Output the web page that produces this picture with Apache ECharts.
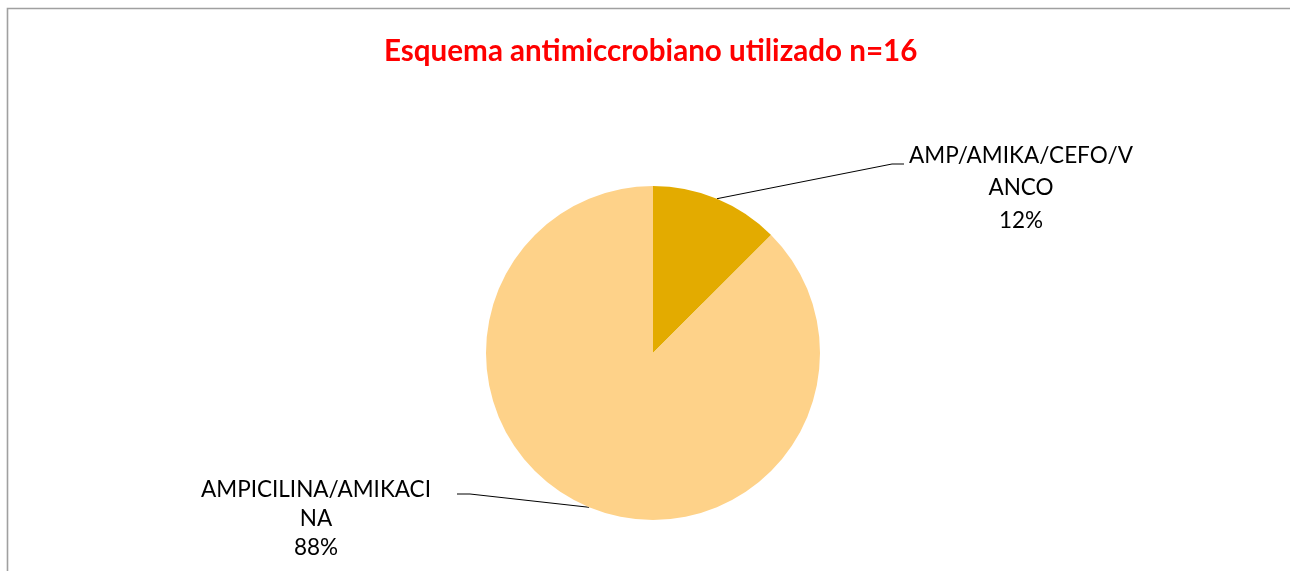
<!DOCTYPE html>
<html>
<head>
<meta charset="utf-8">
<script src="https://cdn.jsdelivr.net/npm/echarts@6/dist/echarts.min.js"></script>
<style>
html,body{margin:0;padding:0;background:#fff;}
#chart{width:1290px;height:571px;}
</style>
</head>
<body>
<div id="chart"></div>
<script>
// Data
const titleText = 'Esquema antimiccrobiano utilizado n=16';
const categories = ['AMP/AMIKA/CEFO/VANCO', 'AMPICILINA/AMIKACINA'];
const values = [2, 14];              // n = 16
const percentLabels = ['12%', '88%']; // as printed on the chart
const wrapAt = [16, 18];             // where the label text wraps
const colors = ['#E3AB00', '#FED289'];
const labelLineHeights = [32.5, 29];

const chart = echarts.init(document.getElementById('chart'), null, {renderer: 'canvas'});

const data = categories.map((c, i) => ({
  name: c,
  value: values[i],
  itemStyle: {color: colors[i]},
  label: {lineHeight: labelLineHeights[i]}
}));

const option = {
  animation: false,
  backgroundColor: '#ffffff',
  title: {
    text: titleText,
    left: 379,
    top: 31,
    textStyle: {
      color: '#FF0000',
      fontFamily: 'Lato',
      fontWeight: 'bold',
      fontSize: 29.6
    }
  },
  graphic: [{
    type: 'rect',
    silent: true,
    shape: {x: 7.5, y: 8.5, width: 1400, height: 700},
    style: {fill: 'none', stroke: '#a0a0a0', lineWidth: 1.6}
  }],
  series: [{
    type: 'pie',
    center: [653, 353],
    radius: 167,
    startAngle: 90,
    clockwise: true,
    data: data,
    label: {
      show: true,
      position: 'outside',
      color: '#000',
      fontFamily: 'Lato',
      fontSize: 22.5,
      lineHeight: 31,
      align: 'center',
      formatter: function (p) {
        const n = wrapAt[p.dataIndex];
        return p.name.slice(0, n) + '\n' + p.name.slice(n) + '\n' + percentLabels[p.dataIndex];
      }
    },
    labelLine: {
      show: true,
      lineStyle: {color: '#000', width: 1}
    },
    labelLayout: function (params) {
      const p0 = params.labelLinePoints ? params.labelLinePoints[0] : null;
      if (params.dataIndex === 0) {
        return {
          x: 1021, y: 139, align: 'center', verticalAlign: 'top',
          labelLinePoints: p0 ? [p0, [892, 164], [904, 164]] : undefined
        };
      }
      return {
        x: 316, y: 475, align: 'center', verticalAlign: 'top',
        labelLinePoints: p0 ? [p0, [470, 494], [457, 494]] : undefined
      };
    }
  }]
};
chart.setOption(option);
</script>
</body>
</html>
